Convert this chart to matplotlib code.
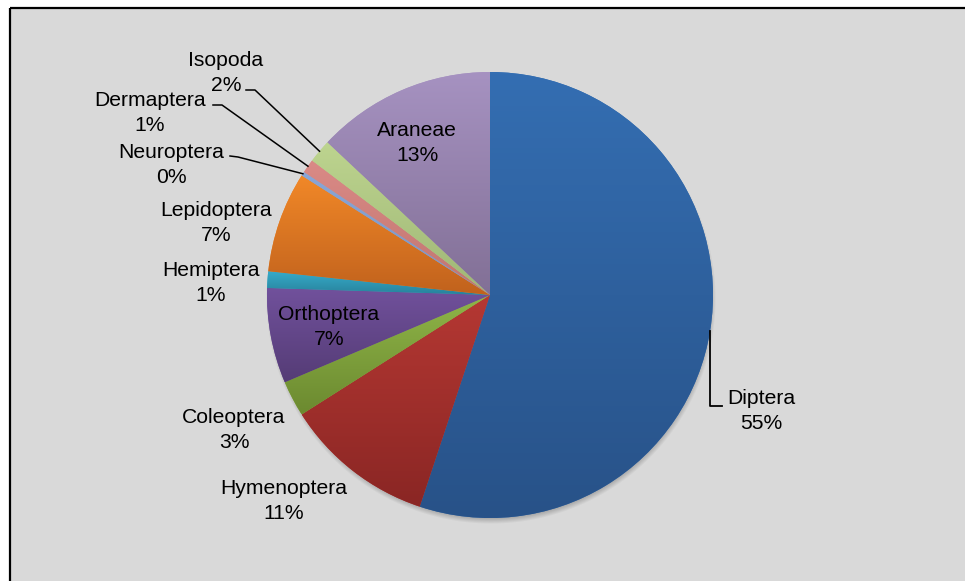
import numpy as np
import matplotlib
matplotlib.use('Agg')
from matplotlib import pyplot as plt
from matplotlib.patches import Rectangle

plt.rcParams['font.family'] = ['Liberation Sans', 'DejaVu Sans']

# share of each group in the catch, clockwise from 12 o'clock
groups = ['Diptera', 'Hymenoptera', 'Coleoptera', 'Orthoptera', 'Hemiptera',
          'Lepidoptera', 'Neuroptera', 'Dermaptera', 'Isopoda', 'Araneae']
shares = [55.1, 10.9, 2.6, 6.9, 1.2, 7.3, 0.3, 1.0, 1.7, 13.0]

# (top, bottom) colours of the vertical gradient in each slice
fills = [('#346eb2', '#285288'), ('#b53833', '#8a2624'), ('#8fb548', '#6c8a30'),
         ('#71519c', '#553c76'), ('#36abca', '#28829b'), ('#f18828', '#c1621d'),
         ('#8aa6d6', '#7a95c4'), ('#da8a86', '#c07570'), ('#bdd48f', '#9fb776'),
         ('#a692c1', '#827096')]

W, H = 965, 581
cx, cy, R = 490, 295, 223

# label block centres (pixels from top-left) and leader knees
label_pos = {'Diptera': (761, 411), 'Hymenoptera': (284, 501), 'Coleoptera': (234, 430),
             'Orthoptera': (329, 327), 'Hemiptera': (211, 283), 'Lepidoptera': (216, 223),
             'Neuroptera': (171, 165), 'Dermaptera': (150, 113), 'Isopoda': (226, 73),
             'Araneae': (417, 143)}
leaders = {'Isopoda': [(246, 90), (255, 90)],
           'Dermaptera': [(213, 105), (222, 105)],
           'Neuroptera': [(230, 156), (238, 157)]}


def hex2rgb(h):
    return np.array(matplotlib.colors.to_rgb(h))


fig = plt.figure(figsize=(W / 100, H / 100), dpi=100)
fig.patch.set_facecolor('white')
ax = fig.add_axes([0, 0, 1, 1])

# chart area with black top/left border
ax.add_patch(Rectangle((10, 0), W - 10, H - 8, facecolor='#d9d9d9', edgecolor='none', zorder=0))
ax.plot([10, W], [H - 7.5, H - 7.5], color='black', lw=1.6, zorder=1, solid_capstyle='butt')
ax.plot([10, 10], [0, H - 7.5], color='black', lw=1.6, zorder=1, solid_capstyle='butt')

# soft drop shadow under the pie, pushed slightly downward
gx, gy = np.meshgrid(np.arange(W) + 0.5, np.arange(H) + 0.5)
d = np.hypot(gx - cx - 1, gy - cy - 4)
alpha = 0.35 * np.clip((R + 2 - d) / 6.0, 0, 1)
shadow = np.zeros((H, W, 4))
shadow[..., :3] = 0.3
shadow[..., 3] = alpha
ax.imshow(shadow, extent=(0, W, 0, H), origin='upper', zorder=2, interpolation='bilinear')

wedges, _ = ax.pie(shares, startangle=90, counterclock=False, radius=R,
                   center=(cx, H - cy), frame=True,
                   wedgeprops=dict(linewidth=0, edgecolor='none'))

total = sum(shares)
for w, (top, bot) in zip(wedges, fills):
    w.set_zorder(3)
    w.set_facecolor(top)
    verts = w.get_path().vertices
    x0, x1 = verts[:, 0].min(), verts[:, 0].max()
    y0, y1 = verts[:, 1].min(), verts[:, 1].max()
    t = np.linspace(0, 1, 64)[:, None]
    grad = (1 - t) * hex2rgb(top) + t * hex2rgb(bot)
    im = ax.imshow(grad[:, None, :], extent=(x0, x1, y0, y1), origin='upper',
                   aspect='auto', zorder=4, interpolation='bilinear')
    im.set_clip_path(w)

for name, v, w in zip(groups, shares, wedges):
    lx, ly = label_pos[name]
    pct = 100.0 * v / total
    ax.text(lx, H - ly, '%s\n%d%%' % (name, round(pct)), ha='center', va='center',
            multialignment='center', fontsize=15.2, linespacing=1.46, color='black',
            zorder=6)
    mid = np.deg2rad((w.theta1 + w.theta2) / 2)
    ex, ey = cx + R * np.cos(mid), (H - cy) + R * np.sin(mid)
    if name in leaders:
        pts = [(x, H - y) for x, y in leaders[name]] + [(ex, ey)]
        ax.plot([p[0] for p in pts], [p[1] for p in pts], color='black', lw=1.1, zorder=5)
    elif name == 'Diptera':
        ax.plot([ex, ex, ex + 12], [ey, H - 406, H - 406], color='black', lw=1.3, zorder=5)

ax.set_xlim(0, W)
ax.set_ylim(0, H)
ax.set_aspect('equal')
ax.axis('off')

fig.savefig('out.png', dpi=100)
